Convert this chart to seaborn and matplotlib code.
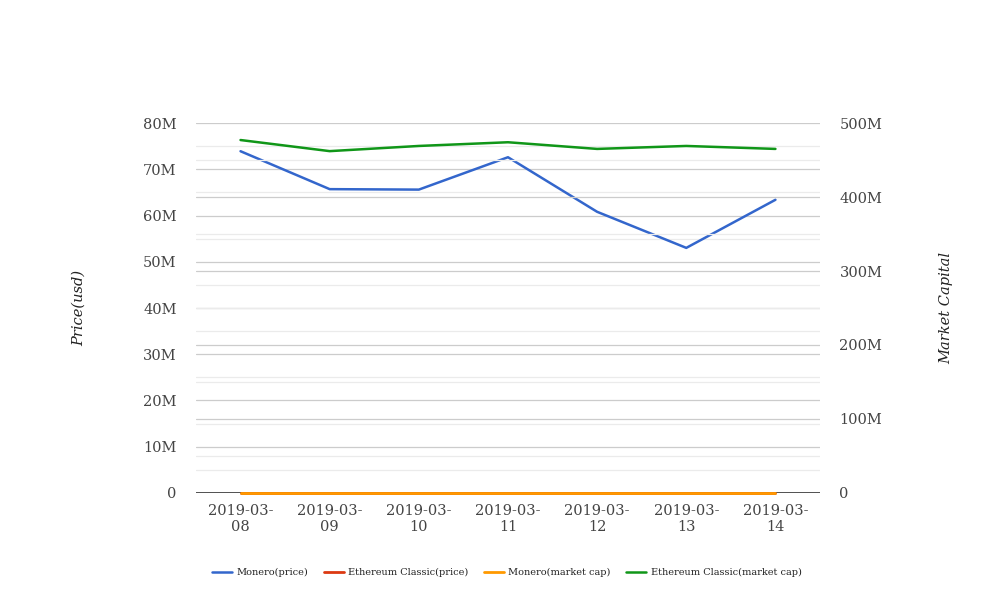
import matplotlib
matplotlib.use("Agg")
import matplotlib.pyplot as plt
import seaborn as sns
import pandas as pd
from matplotlib.ticker import FuncFormatter, MultipleLocator

# === Data ===
dates = ["2019-03-08", "2019-03-09", "2019-03-10", "2019-03-11",
         "2019-03-12", "2019-03-13", "2019-03-14"]
date_labels = [d[:8] + "\n" + d[8:] for d in dates]

monero_price = [73.9e6, 65.7e6, 65.6e6, 72.6e6, 60.8e6, 53.0e6, 63.4e6]
etc_price = [4.6, 4.5, 4.5, 4.6, 4.4, 4.4, 4.5]
monero_mcap = [50, 50, 50, 50, 50, 50, 50]
etc_mcap = [477e6, 462e6, 469e6, 474e6, 465e6, 469e6, 465e6]

df = pd.DataFrame({
    "date": dates,
    "Monero(price)": monero_price,
    "Ethereum Classic(price)": etc_price,
    "Monero(market cap)": monero_mcap,
    "Ethereum Classic(market cap)": etc_mcap,
})

sns.set_style("white")
plt.rcParams["font.family"] = ["DejaVu Serif"]

text_col = "#444444"
fig = plt.figure(figsize=(10.08, 6.16), dpi=100)
ax = fig.add_axes([0.1944, 0.1997, 0.6191, 0.6006])
ax2 = ax.twinx()

sns.lineplot(data=df, x="date", y="Monero(price)", ax=ax, color="#3366cc",
             linewidth=1.8, label="Monero(price)", legend=False)
sns.lineplot(data=df, x="date", y="Ethereum Classic(price)", ax=ax, color="#dc3912",
             linewidth=2.0, label="Ethereum Classic(price)", legend=False)
sns.lineplot(data=df, x="date", y="Monero(market cap)", ax=ax2, color="#ff9900",
             linewidth=2.0, label="Monero(market cap)", legend=False)
sns.lineplot(data=df, x="date", y="Ethereum Classic(market cap)", ax=ax2, color="#109618",
             linewidth=1.8, label="Ethereum Classic(market cap)", legend=False)
for ln in ax.lines + ax2.lines:
    ln.set_clip_on(False)

def fmt_m(v, pos):
    return "0" if v == 0 else f"{v/1e6:.0f}M"

ax.set_xlim(-0.5, len(dates) - 0.5)
ax.set_ylim(0, 80e6)
ax2.set_ylim(0, 500e6)
ax.yaxis.set_major_locator(MultipleLocator(10e6))
ax.yaxis.set_minor_locator(MultipleLocator(5e6))
ax2.yaxis.set_major_locator(MultipleLocator(100e6))
ax2.yaxis.set_minor_locator(MultipleLocator(50e6))
ax.yaxis.set_major_formatter(FuncFormatter(fmt_m))
ax2.yaxis.set_major_formatter(FuncFormatter(fmt_m))

ax.set_xticks(range(len(dates)))
ax.set_xticklabels(date_labels)

for a in (ax, ax2):
    a.grid(False)
    a.set_axisbelow(True)
    for s in a.spines.values():
        s.set_visible(False)
    a.tick_params(axis="both", which="both", length=0, labelsize=10.5,
                  labelcolor=text_col)
ax.tick_params(axis="y", pad=14)
ax2.tick_params(axis="y", pad=14)
ax.tick_params(axis="x", pad=8)

# gridlines for both scales
for v in range(5, 80, 5):
    ax.axhline(v * 1e6, color="#cccccc" if v % 10 == 0 else "#ebebeb",
               linewidth=0.9, zorder=0)
ax.axhline(80e6, color="#cccccc", linewidth=0.9, zorder=0)
for v in range(50, 500, 50):
    ax2.axhline(v * 1e6, color="#cccccc" if v % 100 == 0 else "#ebebeb",
                linewidth=0.9, zorder=0)
ax.axhline(0, color="#333333", linewidth=1.2, zorder=1)

ax.set_xlabel("")
ax.set_ylabel("Price(usd)", fontstyle="italic", fontsize=10.5, color="#222222",
              labelpad=41)
ax2.set_ylabel("Market Capital", fontstyle="italic", fontsize=10.5, color="#222222",
               labelpad=41)

h1, l1 = ax.get_legend_handles_labels()
h2, l2 = ax2.get_legend_handles_labels()
fig.legend(h1 + h2, l1 + l2, loc="center", bbox_to_anchor=(0.503, 0.07),
           ncol=4, frameon=False, fontsize=7, handlelength=2.0,
           columnspacing=1.6, handletextpad=0.5, labelcolor="#222222")

plt.savefig("out.png", dpi=100)
